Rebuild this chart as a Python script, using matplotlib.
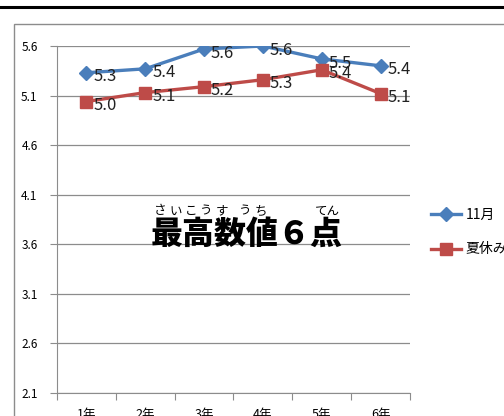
import matplotlib.pyplot as plt
from matplotlib.patches import Rectangle
from matplotlib.lines import Line2D

plt.rcParams['font.family'] = ['Noto Sans CJK JP', 'DejaVu Sans']

grades = ['1年', '2年', '3年', '4年', '5年', '6年']
nov = [5.33, 5.37, 5.57, 5.60, 5.47, 5.40]
summer = [5.04, 5.13, 5.19, 5.26, 5.36, 5.12]
yticks = [2.1, 2.6, 3.1, 3.6, 4.1, 4.6, 5.1, 5.6]
ruby = ['さ', 'い', 'こ', 'う', 'す', 'う', 'ち']

blue = '#4a7ebb'
red = '#be4b48'

fig = plt.figure(figsize=(5.04, 4.16), dpi=100)
W, H = 504, 416

# outer chart frame and top rule
fig.patches.append(Rectangle((14 / W, -0.1), 1.2, 1 - 24 / H + 0.1, transform=fig.transFigure,
                             fill=False, edgecolor='#8c8c8c', lw=1.0))
fig.lines.append(Line2D([0, 1], [1 - 6.5 / H, 1 - 6.5 / H], transform=fig.transFigure,
                        color='black', lw=2.2))

ax = fig.add_axes([57 / W, 23 / H, 353 / W, 347 / H])
x = list(range(len(grades)))
ax.plot(x, nov, color=blue, lw=2.4, marker='D', ms=7, label='11月', zorder=3)
ax.plot(x, summer, color=red, lw=2.4, marker='s', ms=8, label='夏休み', zorder=3)

for xi, v in zip(x, nov):
    ax.annotate(f'{v:.1f}', (xi, v), xytext=(5, -3), textcoords='offset points',
                fontsize=12, va='center', ha='left', color='#222222', zorder=4)
for xi, v in zip(x, summer):
    ax.annotate(f'{v:.1f}', (xi, v), xytext=(5, -3), textcoords='offset points',
                fontsize=12, va='center', ha='left', color='#222222', zorder=4)

ax.set_xlim(-0.5, 5.5)
ax.set_ylim(2.1, 5.6)
ax.set_yticks(yticks)
ax.set_yticklabels([f'{t:.1f}' for t in yticks], fontsize=8.5)
ax.yaxis.grid(True, color='#8c8c8c', lw=0.9)
ax.set_xticks([i - 0.5 for i in range(7)], minor=False)
ax.set_xticklabels([])
ax.set_xticks(x, minor=True)
ax.set_xticklabels(grades, minor=True, fontsize=9)
ax.tick_params(axis='x', which='major', length=5, color='#8c8c8c', direction='out')
ax.tick_params(axis='x', which='minor', length=0, pad=11)
ax.tick_params(axis='y', length=5, color='#8c8c8c', pad=9)
for s in ['top', 'right']:
    ax.spines[s].set_visible(False)
for s in ['left', 'bottom']:
    ax.spines[s].set_color('#8c8c8c')
ax.set_axisbelow(True)

# overlay title with furigana
fig.text(247 / W, 1 - 234 / H, '最高数値６点', fontsize=23, fontweight='black',
         ha='center', va='center')
for i, ch in enumerate(ruby):
    fig.text((160 + i * 15.5 + (8 if i >= 5 else 0)) / W, 1 - 211 / H, ch,
             fontsize=9, ha='center', va='center')
fig.text(327 / W, 1 - 211 / H, 'てん', fontsize=9, ha='center', va='center')

# legend
fig.legend(handles=ax.get_lines(), loc='upper left', bbox_to_anchor=(425 / W, 1 - 202 / H),
           frameon=False, fontsize=10, handlelength=2.2, labelspacing=1.5,
           handletextpad=0.3, borderaxespad=0)

fig.savefig('out.png', dpi=100)
